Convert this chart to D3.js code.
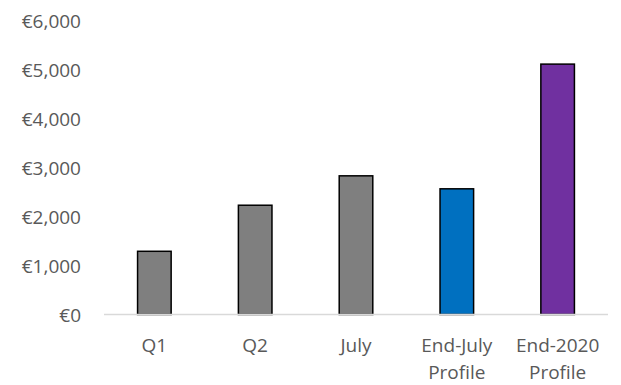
<!DOCTYPE html>
<html>
<head>
<meta charset="utf-8">
<script src="https://cdn.jsdelivr.net/npm/d3@7"></script>
<style>
  body { margin: 0; background: #fff; }
  text { font-family: "Open Sans", sans-serif; fill: #595959; }
</style>
</head>
<body>
<svg id="chart" width="621" height="385"></svg>
<script>
// data
const categories = ["Q1", "Q2", "July", "End-July|Profile", "End-2020|Profile"];
const values = [1290, 2230, 2830, 2565, 5110];
const barColours = ["#7f7f7f", "#7f7f7f", "#7f7f7f", "#0070c0", "#7030a0"];
const yTicks = [0, 1000, 2000, 3000, 4000, 5000, 6000];

const width = 621;
const height = 385;
const margin = {top: 20.5, right: 13, bottom: 70.5, left: 104};

const svg = d3.select("#chart");

// scales
const x = d3.scaleBand()
    .domain(categories)
    .range([margin.left, width - margin.right])
    .paddingInner(0.667)
    .paddingOuter(0.333);

const y = d3.scaleLinear()
    .domain([0, 6000])
    .range([height - margin.bottom, margin.top]);

// y axis labels
const yAxis = d3.axisLeft(y)
    .tickValues(yTicks)
    .tickFormat(d => "€" + d3.format(",")(d))
    .tickSize(0)
    .tickPadding(0);

svg.append("g")
    .attr("transform", "translate(81,0)")
    .call(yAxis)
    .call(g => g.select(".domain").remove())
    .selectAll("text")
      .attr("font-size", "19px")
      .attr("dy", "0.35em");

// bars
svg.selectAll("rect.bar")
  .data(values)
    .enter()
  .append("rect")
    .attr("class", "bar")
    .attr("x", (d, i) => x(categories[i]))
    .attr("y", d => y(d))
    .attr("width", x.bandwidth())
    .attr("height", d => y(0) - y(d))
    .attr("fill", (d, i) => barColours[i])
    .attr("stroke", "#000")
    .attr("stroke-width", 1.5);

// x axis line
svg.append("line")
    .attr("x1", margin.left)
    .attr("x2", width - margin.right)
    .attr("y1", y(0))
    .attr("y2", y(0))
    .attr("stroke", "#d9d9d9")
    .attr("stroke-width", 1.5);

// category labels
const labels = svg.append("g").selectAll("text")
  .data(categories)
    .enter()
  .append("text")
    .attr("x", d => x(d) + x.bandwidth() / 2)
    .attr("y", 352)
    .attr("text-anchor", "middle")
    .attr("font-size", "19px");

labels.selectAll("tspan")
  .data(d => d.split("|").map(t => ({t: t, c: d})))
    .enter()
  .append("tspan")
    .attr("x", d => x(d.c) + x.bandwidth() / 2)
    .attr("dy", (d, i) => i === 0 ? 0 : 26.5)
    .text(d => d.t);
</script>
</body>
</html>
